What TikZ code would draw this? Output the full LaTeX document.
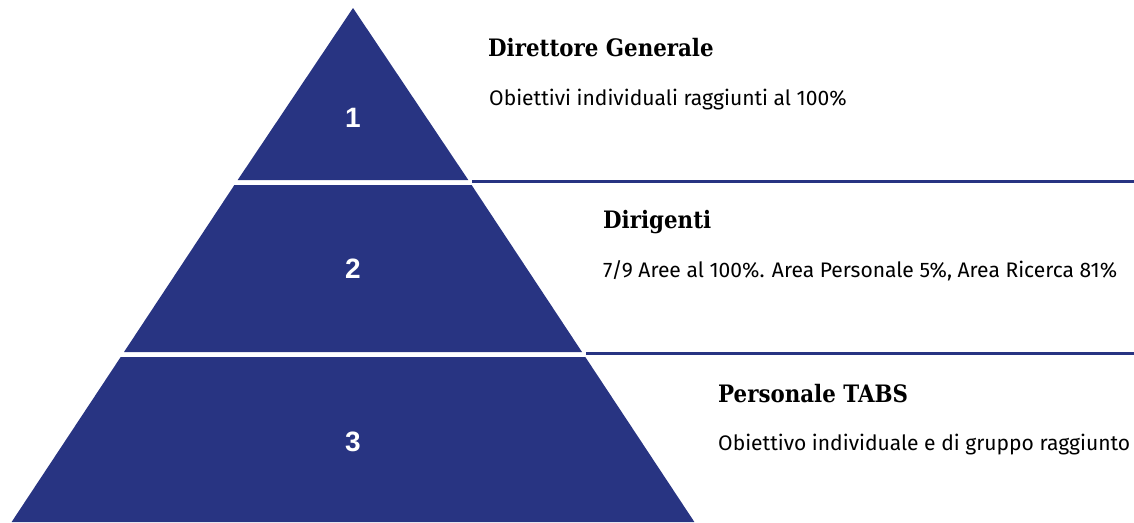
\documentclass[tikz,border=0pt]{standalone}
\usepackage{fontspec}
\setmainfont{Fira Sans}
\newfontfamily\slabfont[FakeStretch=0.89]{DejaVu Serif}
\newfontfamily\numfont{Liberation Sans}
\usetikzlibrary{positioning}
\definecolor{pyrblue}{RGB}{40,52,130}

\begin{document}
\begin{tikzpicture}[
    x=1pt, y=-1pt,
    tier/.style={fill=pyrblue},
    rule/.style={draw=pyrblue, line width=3pt},
    num/.style={text=white, inner sep=0pt, font=\numfont\bfseries\fontsize{28}{28}\selectfont},
    title/.style={anchor=base west, inner sep=0pt, font=\slabfont\bfseries\fontsize{24}{28}\selectfont},
    desc/.style={anchor=base west, inner sep=0pt, font=\fontsize{21.05}{25}\selectfont}
]
\useasboundingbox (0,0) rectangle (1134,522);

% Pyramid tiers
\fill[tier] (353,8) -- (468.3,180) -- (237.7,180) -- cycle;
\fill[tier] (234.4,185) -- (471.6,185) -- (582,352) -- (124,352) -- cycle;
\fill[tier] (120.7,357) -- (585.3,357) -- (694.4,522) -- (11.6,522) -- cycle;

% Tier numbers
\node[num] (num_one) at (353,118) {1};
\node[num] (num_two) at (353,268.5) {2};
\node[num] (num_three) at (353,441.5) {3};

% Rules to the right
\coordinate (rule_one_start) at (472,181);
\coordinate (rule_one_end) at (1134,181);
\coordinate (rule_two_start) at (586,353.5);
\coordinate (rule_two_end) at (1134,353.5);
\draw[rule] (rule_one_start) -- (rule_one_end);
\draw[rule] (rule_two_start) -- (rule_two_end);

% Labels
\node[title] (title_one) at (488,56) {Direttore Generale};
\node[desc] (desc_one) at (489,105) {Obiettivi individuali raggiunti al 100\%};

\node[title] (title_two) at (603,228) {Dirigenti};
\node[desc] (desc_two) at (603,277) {7/9 Aree al 100\%. Area Personale 5\%, Area Ricerca 81\%};

\node[title] (title_three) at (718,402) {Personale TABS};
\node[desc] (desc_three) at (718,450) {Obiettivo individuale e di gruppo raggiunto};

\end{tikzpicture}
\end{document}
